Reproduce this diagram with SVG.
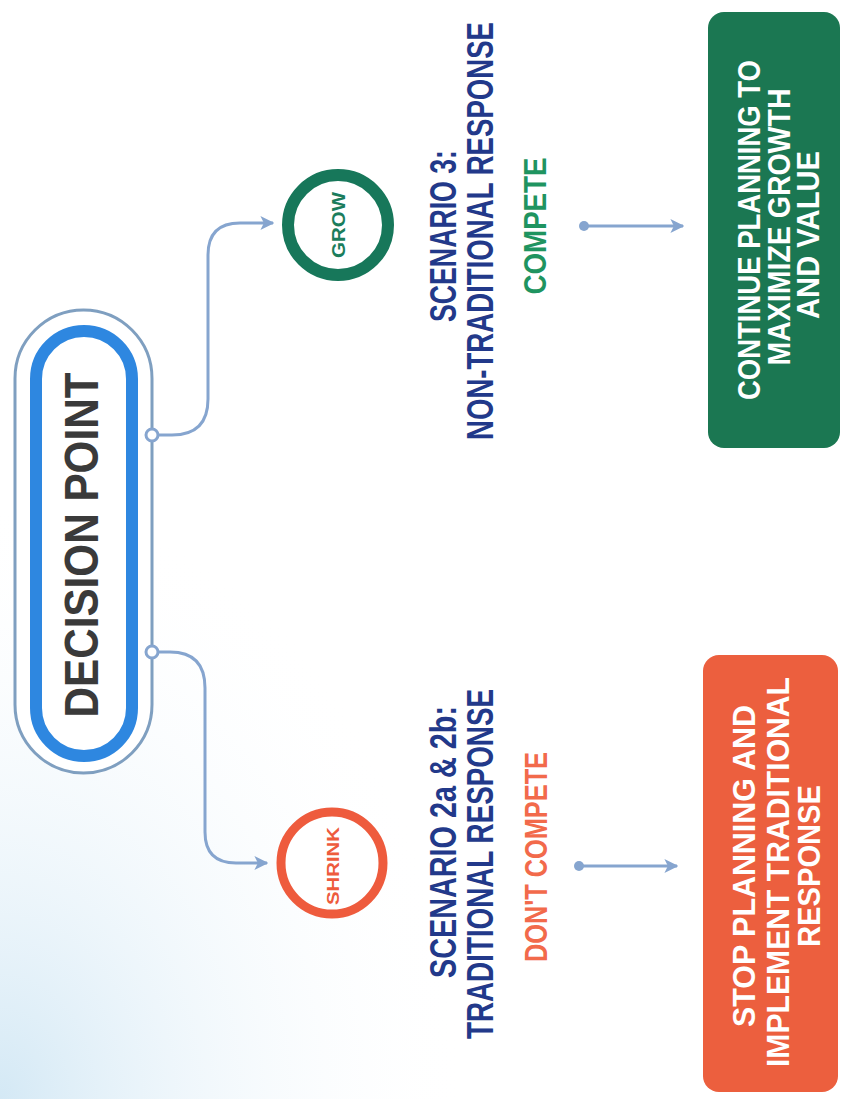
<svg xmlns="http://www.w3.org/2000/svg" width="850" height="1099" viewBox="0 0 850 1099">
  <defs>
    <radialGradient id="bgBL" cx="0" cy="1" r="0.55">
      <stop offset="0" stop-color="#cfe6f4" stop-opacity="0.9"/>
      <stop offset="1" stop-color="#ffffff" stop-opacity="0"/>
    </radialGradient>
    <marker id="arr" viewBox="0 0 10 10" refX="9" refY="5" markerWidth="14" markerHeight="14" markerUnits="userSpaceOnUse" orient="auto">
      <path d="M0,0 L10,5 L0,10 L2.5,5 z" fill="#86a5cf"/>
    </marker>
    <style>
      .conn { fill: none; stroke: #86a5cf; stroke-width: 3; }
      .junc { fill: #ffffff; stroke: #86a5cf; stroke-width: 3; }
      .t { font-family: "Liberation Sans", Arial, sans-serif; font-weight: bold; text-anchor: middle; }
      .navy { fill: #22398a; font-size: 36px; }
      .box { fill: #ffffff; font-size: 32px; }
    </style>
  </defs>
  <rect x="0" y="0" width="850" height="1099" fill="#ffffff"/>
  <rect x="0" y="0" width="850" height="1099" fill="url(#bgBL)"/>

  <g id="decision-point">
    <rect x="15" y="310" width="137" height="463" rx="68.5" ry="68.5" fill="#ffffff" stroke="#7f9fc0" stroke-width="3"/>
    <rect x="36" y="331" width="96" height="425" rx="48" ry="48" fill="#ffffff" stroke="#2e87e0" stroke-width="12"/>
    <text class="t" transform="translate(98,545) rotate(-90)" font-size="48" fill="#3a3a3a" textLength="345" lengthAdjust="spacingAndGlyphs">DECISION POINT</text>
  </g>

  <g id="connectors">
    <path class="conn" d="M158,435 H172 Q208,435 208,399 V255 Q208,223 240,223 H273" marker-end="url(#arr)"/>
    <path class="conn" d="M158,652 H170 Q205,652 205,688 V832 Q205,863 236,863 H267" marker-end="url(#arr)"/>
    <circle class="junc" cx="152" cy="435" r="6"/>
    <circle class="junc" cx="152" cy="652" r="6"/>
    <circle cx="584" cy="226" r="5" fill="#86a5cf"/>
    <line class="conn" x1="584" y1="226" x2="683" y2="226" stroke-width="3.5" marker-end="url(#arr)"/>
    <circle cx="579" cy="866" r="5" fill="#86a5cf"/>
    <line class="conn" x1="579" y1="866" x2="677" y2="866" stroke-width="3.5" marker-end="url(#arr)"/>
  </g>

  <g id="grow">
    <circle cx="338" cy="225" r="50" fill="#ffffff" stroke="#17775a" stroke-width="12"/>
    <text class="t" transform="translate(345,225) rotate(-90)" font-size="19" fill="#1b7d5c" textLength="66" lengthAdjust="spacingAndGlyphs">GROW</text>
  </g>

  <g id="shrink">
    <circle cx="332" cy="863" r="51" fill="#ffffff" stroke="#ee5b3d" stroke-width="9"/>
    <text class="t" transform="translate(339,866) rotate(-90)" font-size="16" fill="#ee5b3d" textLength="78" lengthAdjust="spacingAndGlyphs">SHRINK</text>
  </g>

  <g id="scenario-3">
    <text class="t navy" transform="translate(456,236) rotate(-90)" textLength="172" lengthAdjust="spacingAndGlyphs">SCENARIO 3:</text>
    <text class="t navy" transform="translate(493,231) rotate(-90)" textLength="418" lengthAdjust="spacingAndGlyphs">NON-TRADITIONAL RESPONSE</text>
  </g>

  <g id="compete">
    <text class="t" transform="translate(546,226) rotate(-90)" font-size="32" fill="#1f9460" textLength="137" lengthAdjust="spacingAndGlyphs">COMPETE</text>
  </g>

  <g id="scenario-2">
    <text class="t navy" transform="translate(456,842) rotate(-90)" textLength="272" lengthAdjust="spacingAndGlyphs">SCENARIO 2a &amp; 2b:</text>
    <text class="t navy" transform="translate(493,864) rotate(-90)" textLength="350" lengthAdjust="spacingAndGlyphs">TRADITIONAL RESPONSE</text>
  </g>

  <g id="dont-compete">
    <text class="t" transform="translate(547,857) rotate(-90)" font-size="32" fill="#f26a4b" textLength="210" lengthAdjust="spacingAndGlyphs">DON'T COMPETE</text>
  </g>

  <g id="continue-box">
    <rect x="708" y="12" width="132" height="436" rx="16" ry="16" fill="#1b7752"/>
    <text class="t box" transform="translate(760,230) rotate(-90)" textLength="340" lengthAdjust="spacingAndGlyphs">CONTINUE PLANNING TO</text>
    <text class="t box" transform="translate(790,227) rotate(-90)" textLength="277" lengthAdjust="spacingAndGlyphs">MAXIMIZE GROWTH</text>
    <text class="t box" transform="translate(819,235) rotate(-90)" textLength="168" lengthAdjust="spacingAndGlyphs">AND VALUE</text>
  </g>

  <g id="stop-box">
    <rect x="703" y="655" width="135" height="437" rx="16" ry="16" fill="#ec5f3e"/>
    <text class="t box" transform="translate(755,866) rotate(-90)" textLength="322" lengthAdjust="spacingAndGlyphs">STOP PLANNING AND</text>
    <text class="t box" transform="translate(789,872) rotate(-90)" textLength="390" lengthAdjust="spacingAndGlyphs">IMPLEMENT TRADITIONAL</text>
    <text class="t box" transform="translate(820,866) rotate(-90)" textLength="162" lengthAdjust="spacingAndGlyphs">RESPONSE</text>
  </g>
</svg>
